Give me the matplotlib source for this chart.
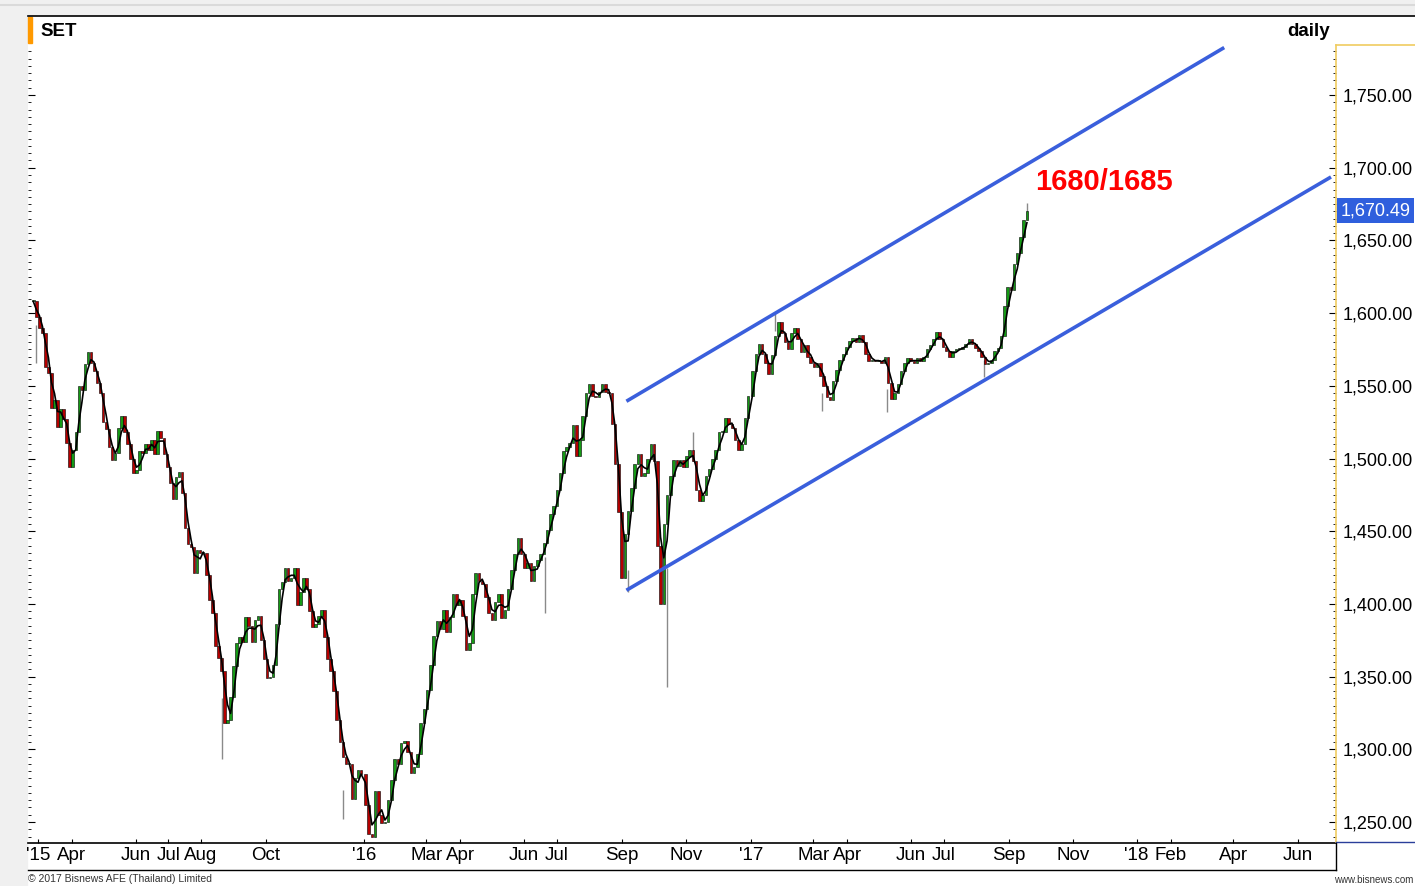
import numpy as np
import pandas as pd
import matplotlib
matplotlib.use('Agg')
import matplotlib.pyplot as plt
from matplotlib.lines import Line2D
from matplotlib.patches import Rectangle
from matplotlib.ticker import FixedLocator, FuncFormatter

plt.rcParams['font.family'] = ['Liberation Sans', 'DejaVu Sans']

# SET index (roughly one value every two sessions)
close_2015 = [1608, 1597, 1590, 1586, 1563, 1559, 1535, 1540, 1522, 1534, 1527, 1511, 1494, 1506,
              1518, 1550, 1547, 1565, 1573, 1566, 1560, 1552, 1545, 1525, 1520, 1508, 1499, 1504,
              1521, 1529, 1518, 1510, 1500, 1490, 1492, 1505, 1504, 1510, 1506, 1513, 1503, 1519,
              1514, 1503, 1494, 1483, 1472, 1487, 1491, 1476, 1452, 1441, 1439, 1421, 1437, 1435,
              1435, 1420, 1403, 1394, 1371, 1363, 1354, 1318, 1320, 1336, 1357, 1373, 1377, 1374,
              1391, 1385, 1374, 1389, 1392, 1375, 1362, 1349, 1350, 1358, 1386, 1410, 1415, 1425,
              1416, 1418, 1425, 1399, 1408, 1418, 1410, 1395, 1384, 1386, 1392, 1396, 1377, 1362,
              1354, 1340, 1320, 1305, 1295, 1290, 1290, 1266, 1280, 1286, 1283]
close_2016 = [1262, 1242, 1240, 1271, 1255, 1249, 1250, 1265, 1279, 1293, 1290, 1304, 1306, 1298,
              1284, 1288, 1297, 1318, 1328, 1341, 1358, 1378, 1388, 1383, 1396, 1381, 1391, 1407,
              1399, 1403, 1392, 1368, 1373, 1407, 1421, 1416, 1414, 1405, 1394, 1389, 1401, 1407,
              1390, 1396, 1410, 1423, 1434, 1445, 1434, 1425, 1428, 1416, 1426, 1430, 1434, 1442,
              1451, 1462, 1467, 1478, 1490, 1505, 1508, 1511, 1523, 1502, 1513, 1529, 1545, 1551,
              1543, 1542, 1546, 1551, 1546, 1545, 1524, 1496, 1463, 1418, 1448, 1464, 1480, 1496,
              1503, 1488, 1490, 1500, 1510, 1498, 1440, 1400, 1455, 1475, 1488, 1499, 1495, 1499,
              1494, 1502, 1506, 1498, 1478, 1471, 1475, 1488, 1493, 1500, 1506, 1518, 1518, 1528,
              1524, 1521, 1513, 1506, 1510, 1528, 1543]
close_2017 = [1560, 1572, 1579, 1572, 1566, 1558, 1571, 1584, 1594, 1586, 1580, 1575, 1586, 1590,
              1582, 1573, 1578, 1570, 1566, 1563, 1566, 1557, 1550, 1542, 1540, 1553, 1561, 1568,
              1572, 1577, 1581, 1583, 1580, 1585, 1580, 1572, 1567, 1568, 1567, 1567, 1566, 1570,
              1552, 1541, 1545, 1551, 1560, 1566, 1569, 1567, 1566, 1569, 1567, 1570, 1575, 1578,
              1582, 1587, 1582, 1577, 1574, 1570, 1574, 1575, 1575, 1577, 1579, 1582, 1579, 1576,
              1574, 1570, 1565, 1566, 1568, 1574, 1576, 1584, 1605, 1618, 1616, 1634, 1641, 1652,
              1664, 1670.49]
seg_start = ['2015-02-24', '2016-01-04', '2017-01-03']
seg_end = ['2015-12-30', '2016-12-29', '2017-09-19']

# long shadows visible on the chart
spike_dates = ['2015-02-26', '2015-08-20', '2015-12-14', '2016-06-21', '2016-09-07',
               '2016-10-13', '2016-11-08', '2017-01-24', '2017-03-09', '2017-05-10',
               '2017-08-09', '2017-09-19']
spike_lo = [1566, 1293, 1252, 1394, 1408, 1343, 1498, 1588, 1533, 1532, 1556, 1665]
spike_hi = [1592, 1335, 1272, 1432, 1423, 1425, 1518, 1600, 1545, 1548, 1568, 1676]

# trend channel
upper_dates = ['2016-09-07', '2018-03-22']
upper_vals = [1540, 1782]
lower_dates = ['2016-09-07', '2018-07-02']
lower_vals = [1410, 1693]

tick_dates = ['2015-03-01', '2015-04-01', '2015-06-01', '2015-07-01', '2015-08-01', '2015-10-01',
              '2016-01-01', '2016-03-01', '2016-04-01', '2016-06-01', '2016-07-01', '2016-09-01',
              '2016-11-01', '2017-01-01', '2017-03-01', '2017-04-01', '2017-06-01', '2017-07-01',
              '2017-09-01', '2017-11-01', '2018-01-01', '2018-02-01', '2018-04-01', '2018-06-01']
tick_labels = ["'15", 'Apr', 'Jun', 'Jul', 'Aug', 'Oct', "'16", 'Mar', 'Apr', 'Jun', 'Jul', 'Sep',
               'Nov', "'17", 'Mar', 'Apr', 'Jun', 'Jul', 'Sep', 'Nov', "'18", 'Feb', 'Apr', 'Jun']

base = np.datetime64('2016-01-01')


def wd(d):
    # weekday index relative to 2016-01-01
    return np.busday_count(base, np.datetime64(d))


W, H = 1415, 886
fig = plt.figure(figsize=(W / 100, H / 100), dpi=100)
fig.patch.set_facecolor('white')


def fx(x):
    return x / W


def fy(y):
    return 1 - y / H


def fline(x0, y0, x1, y1, color, lw=1.0):
    fig.add_artist(Line2D([fx(x0), fx(x1)], [fy(y0), fy(y1)], transform=fig.transFigure,
                          color=color, lw=lw))


# grey frame
fig.add_artist(Rectangle((0, 0), fx(27), 1, transform=fig.transFigure, color='#f0f0f0', zorder=0))
fig.add_artist(Rectangle((0, fy(15)), 1, 15 / H, transform=fig.transFigure, color='#f0f0f0', zorder=0))
fline(0, 5, W, 5, '#dadada', 1.5)

ax = fig.add_axes([fx(28), fy(843), fx(1336) - fx(28), (843 - 16) / H])
ax.set_facecolor('white')

closes = [close_2015, close_2016, close_2017]
pos = np.concatenate([np.linspace(wd(s), wd(e), len(c)) for s, e, c in zip(seg_start, seg_end, closes)])
close = np.concatenate([np.array(c, dtype=float) for c in closes])
opn = np.r_[close[0], close[:-1]]
up = close >= opn
colors = np.where(up, '#159a15', '#b50000')
bottom = np.minimum(opn, close)
height = np.maximum(np.abs(close - opn), 0.8)

ax.vlines([wd(d) for d in spike_dates], spike_lo, spike_hi, color='#8a8a8a', lw=1.0, zorder=2)
ax.bar(pos, height, width=1.7, bottom=bottom, color=colors, edgecolor='black', linewidth=0.4, zorder=3)
ma = pd.Series(close).rolling(3, min_periods=1).mean()
ax.plot(pos, ma, color='black', lw=1.2, zorder=4)

ax.plot([wd(d) for d in upper_dates], upper_vals, color='#3a5fdc', lw=2.6, zorder=5)
ax.plot([wd(d) for d in lower_dates], lower_vals, color='#3a5fdc', lw=2.6, zorder=5)

ax.set_xlim((28 - 364) / 1.483, (1336 - 364) / 1.483)
ax.set_ylim(1750 - (843 - 95) / 1.454, 1750 + (95 - 16) / 1.454)

ax.set_xticks([wd(d) for d in tick_dates])
ax.set_xticklabels(tick_labels)
ax.tick_params(axis='x', direction='in', length=3, width=0.8, labelsize=13.5, pad=3)

ax.yaxis.set_major_locator(FixedLocator(np.arange(1250, 1751, 50)))
ax.yaxis.set_minor_locator(FixedLocator(np.arange(1240, 1781, 5)))
ax.yaxis.set_major_formatter(FuncFormatter(lambda v, p: f'{v:,.2f}'))
ax.tick_params(axis='y', which='both', direction='in', left=True, right=True,
               labelleft=False, labelright=True, labelsize=13, pad=5)
ax.tick_params(axis='y', which='major', length=5, width=0.8)
ax.tick_params(axis='y', which='minor', length=2.5, width=0.6)

for s in ['left', 'right', 'top']:
    ax.spines[s].set_visible(False)
ax.spines['bottom'].set_color('black')
ax.spines['bottom'].set_linewidth(1.2)

# price tag
last = close[-1]
ax.annotate(f'{last:,.2f}', xy=(1, last), xycoords=ax.get_yaxis_transform(), xytext=(3.5, 0),
            textcoords='offset points', ha='left', va='center', color='white', fontsize=13,
            bbox=dict(boxstyle='square,pad=0.2', fc='#2f5fdd', ec='none'), zorder=6,
            annotation_clip=False)

# frame lines
fline(28, 16, W, 16, 'black', 1.2)
fline(1336, 45, 1336, 842, '#f0cc60', 1.2)
fline(1336, 45, W, 45, '#f0cc60', 1.2)
fline(1336, 842, W, 842, '#2a3f9a', 1.0)
fline(28, 870, 1336, 870, 'black', 1.0)
fline(1336, 843, 1336, 870, 'black', 1.0)
fig.add_artist(Rectangle((fx(28), fy(43)), 4 / W, 26 / H, transform=fig.transFigure, color='#ff9900'))

fig.text(fx(40), fy(31), 'SET', fontsize=13.5, fontweight='bold', va='center', ha='left')
fig.text(fx(1330), fy(31), 'daily', fontsize=13.5, fontweight='bold', va='center', ha='right')
fig.text(fx(1035), fy(182), '1680/1685', fontsize=21, fontweight='bold', color='#ff0000',
         va='center', ha='left')
fig.text(fx(28), fy(879), '\u00a9 2017 Bisnews AFE (Thailand) Limited', fontsize=7.5,
         color='#333333', va='center', ha='left')
fig.text(fx(1413), fy(880), 'www.bisnews.com', fontsize=7, color='#333333', va='center', ha='right')

fig.savefig('out.png', dpi=100)
